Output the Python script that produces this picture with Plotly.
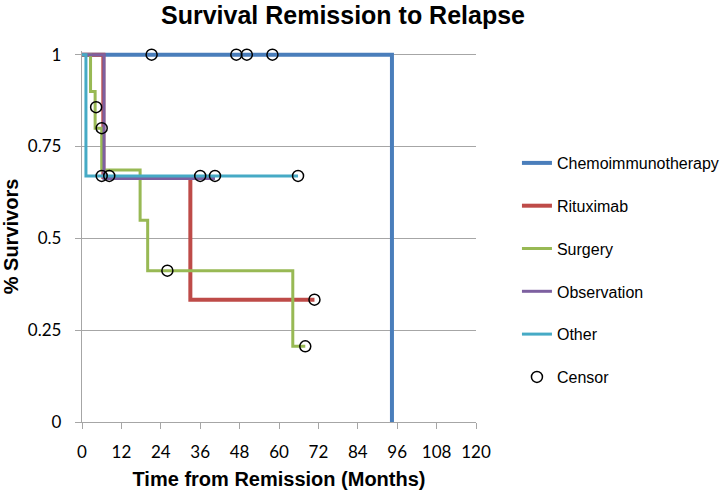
import plotly.graph_objects as go

# Step-curve data (time in months, survival fraction)
chemo_x = [0, 94.4, 94.4]
chemo_y = [1, 1, 0]

ritux_x = [0, 6.5, 6.5, 33, 33, 70.8]
ritux_y = [1, 1, 0.667, 0.667, 0.333, 0.333]

surgery_x = [0, 2.6, 2.6, 4.0, 4.0, 6.0, 6.0, 17.7, 17.7, 20.0, 20.0, 64.2, 64.2, 68.0]
surgery_y = [1, 1, 0.9, 0.9, 0.8, 0.8, 0.686, 0.686, 0.549, 0.549, 0.412, 0.412, 0.206, 0.206]

obs_x = [0, 6.7, 6.7, 40.5]
obs_y = [1, 1, 0.663, 0.663]

other_x = [0, 1.2, 1.2, 65.8]
other_y = [1, 1, 0.67, 0.67]

censor_x = [21.2, 47.0, 50.2, 58.0, 4.3, 6.0, 6.0, 8.3, 36.0, 40.5, 65.8, 26.0, 68.0, 70.8]
censor_y = [1, 1, 1, 1, 0.857, 0.8, 0.67, 0.67, 0.67, 0.67, 0.67, 0.412, 0.206, 0.333]

x_ticks = [0, 12, 24, 36, 48, 60, 72, 84, 96, 108, 120]
y_ticks = [0, 0.25, 0.5, 0.75, 1]
y_tick_text = ["0", "0.25", "0.5", "0.75", "1"]

series = [
    ("Chemoimmunotherapy", chemo_x, chemo_y, "#4A7EBB", 4),
    ("Rituximab", ritux_x, ritux_y, "#BE4B48", 4),
    ("Surgery", surgery_x, surgery_y, "#98B954", 3),
    ("Observation", obs_x, obs_y, "#7D60A0", 3),
    ("Other", other_x, other_y, "#46AAC5", 3),
]

fig = go.Figure()
for i, (name, xs, ys, col, w) in enumerate(series):
    fig.add_trace(go.Scatter(x=xs, y=ys, mode="lines", name=name,
                             line=dict(color=col, width=w),
                             legendgroup=f"g{i}"))
fig.add_trace(go.Scatter(x=censor_x, y=censor_y, mode="markers", name="Censor",
                         marker=dict(symbol="circle-open", size=11,
                                     color="black", line=dict(width=1.5)),
                         legendgroup="g5", cliponaxis=False))

tick_font = dict(family="Lato, Open Sans, sans-serif", size=17, color="#000000")
bold_font = "Liberation Sans, Arial, sans-serif"
L, R, T, B = 82, 248.5, 51, 68
W = 725 - L - R
H = 490 - T - B
fig.update_layout(
    width=725, height=490,
    margin=dict(l=L, r=R, t=T, b=B, autoexpand=False),
    paper_bgcolor="white", plot_bgcolor="white",
    title=dict(text="<b>Survival Remission to Relapse</b>", x=343 / 725, xref="container",
               xanchor="center", y=1 - 15 / 490, yref="container", yanchor="middle",
               font=dict(family=bold_font, size=25, color="#000000")),
    xaxis=dict(range=[0, 120], tickvals=x_ticks, ticktext=[str(t) for t in x_ticks],
               automargin=False,
               showgrid=False, zeroline=False, showline=True, linecolor="#A6A6A6", linewidth=1.3,
               ticks="outside", ticklen=6, tickcolor="#A6A6A6", tickwidth=1.3,
               ticklabelstandoff=8,
               tickfont=tick_font,
               title=dict(text="<b>Time from Remission (Months)</b>", standoff=12,
                          font=dict(family=bold_font, size=20, color="#000000"))),
    yaxis=dict(range=[0, 1.01], tickvals=y_ticks, ticktext=y_tick_text,
               automargin=False,
               showgrid=True, gridcolor="#A6A6A6", gridwidth=1.3,
               zeroline=False, showline=True, linecolor="#A6A6A6", linewidth=1.3,
               ticks="outside", ticklen=6, tickcolor="#A6A6A6", tickwidth=1.3,
               ticklabelstandoff=10,
               tickfont=tick_font,
               title=dict(text="<b>% Survivors</b>", standoff=12,
                          font=dict(family=bold_font, size=20, color="#000000"))),
    legend=dict(x=(517.5 - L) / W, xanchor="left", y=(490 - B - 146) / H,
                yanchor="top",
                font=dict(family=bold_font, size=16, color="#000000"),
                tracegroupgap=19, bgcolor="rgba(0,0,0,0)"),
    showlegend=True,
)

fig.write_html("out.html", config={"displayModeBar": False},
               post_script="document.body.style.margin='0px';")
